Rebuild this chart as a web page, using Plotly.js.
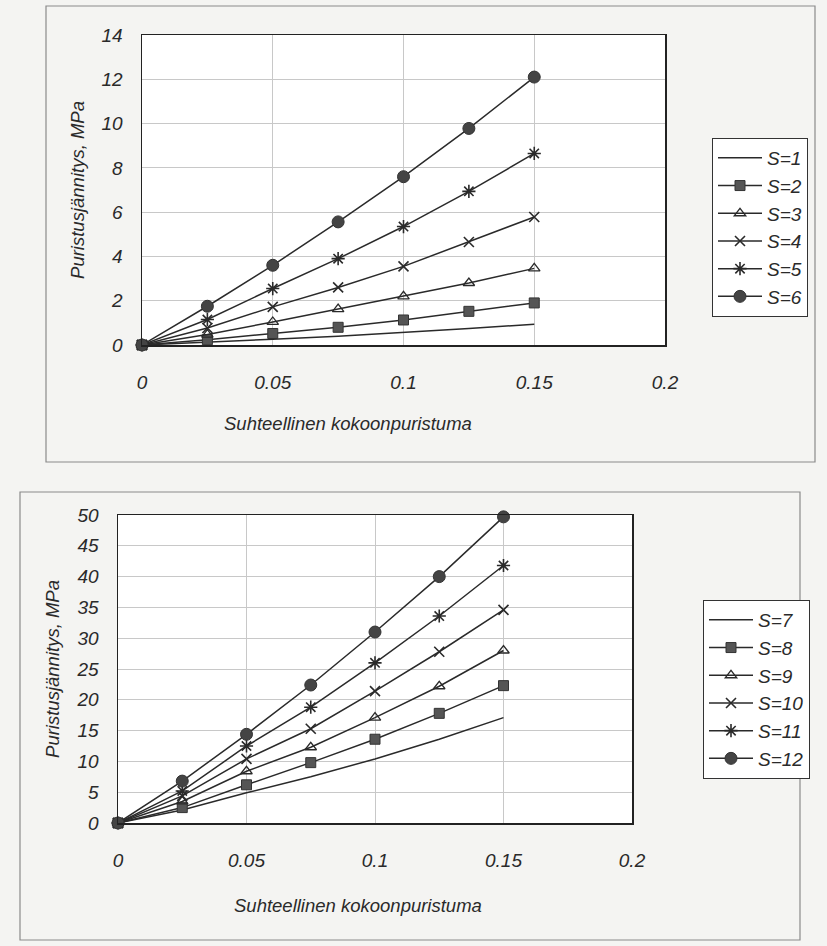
<!DOCTYPE html>
<html>
<head>
<meta charset="utf-8">
<script src="https://cdn.plot.ly/plotly-3.0.1.min.js"></script>
<style>
  html, body { margin: 0; padding: 0; background: #f4f4f2; }
  #chart { width: 827px; height: 946px; }
</style>
</head>
<body>
<div id="chart"></div>
<script>
// Relative compression (x) shared by all series
const strain = [0, 0.025, 0.05, 0.075, 0.1, 0.125, 0.15];

// Top chart: compressive stress, MPa
const topNames = ["S=1", "S=2", "S=3", "S=4", "S=5", "S=6"];
const s1 = [0, 0.12, 0.26, 0.40, 0.56, 0.75, 0.94];
const s2 = [0, 0.24, 0.52, 0.80, 1.13, 1.52, 1.90];
const s3 = [0, 0.47, 1.04, 1.62, 2.20, 2.80, 3.46];
const s4 = [0, 0.77, 1.72, 2.60, 3.55, 4.65, 5.78];
const s5 = [0, 1.15, 2.55, 3.90, 5.35, 6.94, 8.65];
const s6 = [0, 1.75, 3.60, 5.56, 7.60, 9.78, 12.10];

// Bottom chart: compressive stress, MPa
const botNames = ["S=7", "S=8", "S=9", "S=10", "S=11", "S=12"];
const s7  = [0, 2.1, 4.9, 7.5, 10.4, 13.6, 17.1];
const s8  = [0, 2.5, 6.2, 9.8, 13.6, 17.8, 22.3];
const s9  = [0, 3.5, 8.4, 12.3, 17.1, 22.2, 28.0];
const s10 = [0, 4.4, 10.4, 15.3, 21.4, 27.8, 34.6];
const s11 = [0, 5.2, 12.5, 18.8, 26.0, 33.6, 41.8];
const s12 = [0, 6.8, 14.4, 22.4, 31.0, 40.0, 49.7];

const xTicks = [0, 0.05, 0.1, 0.15, 0.2];
const xTickText = ["0", "0.05", "0.1", "0.15", "0.2"];
const topYTicks = [0, 2, 4, 6, 8, 10, 12, 14];
const botYTicks = [0, 5, 10, 15, 20, 25, 30, 35, 40, 45, 50];

const xTitle = "Suhteellinen kokoonpuristuma";
const yTitle = "Puristusjännitys, MPa";

const FONT = "Liberation Sans, Arial, sans-serif";
const ink = "#2a2a2a";
const markerStyles = [
  {symbol: "circle", size: 1},
  {symbol: "square", size: 10, color: "#555", line: {color: "#333", width: 1}},
  {symbol: "triangle-up-open", size: 10, color: ink, line: {width: 1.3}},
  {symbol: "x-thin-open", size: 10, color: ink, line: {width: 1.6}},
  {symbol: "asterisk-open", size: 11, color: ink, line: {width: 1.6}},
  {symbol: "circle", size: 12, color: "#444", line: {color: "#333", width: 1}}
];

function makeTraces(names, series, xa, ya, legend) {
  return series.map((ys, i) => {
    const ms = markerStyles[i];
    const t = {
      x: strain, y: ys, name: names[i],
      xaxis: xa, yaxis: ya, legend: legend,
      type: "scatter",
      mode: i === 0 ? "lines" : "lines+markers",
      line: {color: ink, width: 1.5},
      cliponaxis: false
    };
    if (i > 0) {
      t.marker = {symbol: ms.symbol, size: ms.size, color: ms.color,
                  line: Object.assign({color: ink}, ms.line)};
    }
    return t;
  });
}

const traces = [].concat(
  makeTraces(topNames, [s1, s2, s3, s4, s5, s6], "x", "y", "legend"),
  makeTraces(botNames, [s7, s8, s9, s10, s11, s12], "x2", "y2", "legend2")
);

const axisFont = {family: FONT, size: 19, color: ink, style: "italic"};
const titleFont = {family: FONT, size: 18.5, color: ink, style: "italic"};
function xAxis(domain, anchor) {
  return {
    domain: domain, anchor: anchor, range: [0, 0.2],
    tickvals: xTicks, ticktext: xTickText,
    showgrid: true, gridcolor: "#c8c8c8", gridwidth: 1,
    showline: true, linecolor: "#222", linewidth: 1.5, mirror: true,
    zeroline: false, ticks: "", ticklabelstandoff: 20,
    tickfont: axisFont,
    fixedrange: true
  };
}
function yAxis(domain, anchor, range, ticks) {
  return {
    domain: domain, anchor: anchor, range: range,
    tickvals: ticks,
    showgrid: true, gridcolor: "#c8c8c8", gridwidth: 1,
    showline: true, linecolor: "#222", linewidth: 1.5, mirror: true,
    zeroline: false, ticks: "", ticklabelstandoff: 14,
    tickfont: axisFont,
    title: {text: yTitle, font: titleFont, standoff: 12},
    fixedrange: true
  };
}

const W = 827, H = 946;
const px = v => v / W, py = v => 1 - v / H;

const legendBase = {
  bgcolor: "#ffffff", bordercolor: "#333", borderwidth: 1,
  font: {family: FONT, size: 19, color: ink, style: "italic"},
  xanchor: "left", yanchor: "top", itemwidth: 44,
  tracegroupgap: 0, itemclick: false, itemdoubleclick: false
};

const layout = {
  width: W, height: H,
  margin: {l: 0, r: 0, t: 0, b: 0},
  paper_bgcolor: "#f4f4f2",
  plot_bgcolor: "#ffffff",
  showlegend: true,
  xaxis: xAxis([px(142), px(665)], "y"),
  yaxis: yAxis([py(345), py(35)], "x", [0, 14], topYTicks),
  xaxis2: xAxis([px(118), px(632)], "y2"),
  yaxis2: yAxis([py(823), py(515)], "x2", [0, 50], botYTicks),
  legend: Object.assign({}, legendBase, {x: px(712), y: py(138)}),
  legend2: Object.assign({}, legendBase, {x: px(703), y: py(600)}),
  annotations: [
    {text: xTitle, xref: "paper", yref: "paper", x: px(348), y: py(423),
     xanchor: "center", yanchor: "middle", showarrow: false, font: titleFont},
    {text: xTitle, xref: "paper", yref: "paper", x: px(358), y: py(905),
     xanchor: "center", yanchor: "middle", showarrow: false, font: titleFont}
  ],
  shapes: [
    {type: "rect", xref: "paper", yref: "paper",
     x0: px(46), x1: px(815), y0: py(462), y1: py(6),
     line: {color: "#8a8a8a", width: 1.2}, layer: "below"},
    {type: "rect", xref: "paper", yref: "paper",
     x0: px(20), x1: px(800), y0: py(940), y1: py(492),
     line: {color: "#8a8a8a", width: 1.2}, layer: "below"}
  ]
};

Plotly.newPlot("chart", traces, layout, {displayModeBar: false, staticPlot: true});
</script>
</body>
</html>
